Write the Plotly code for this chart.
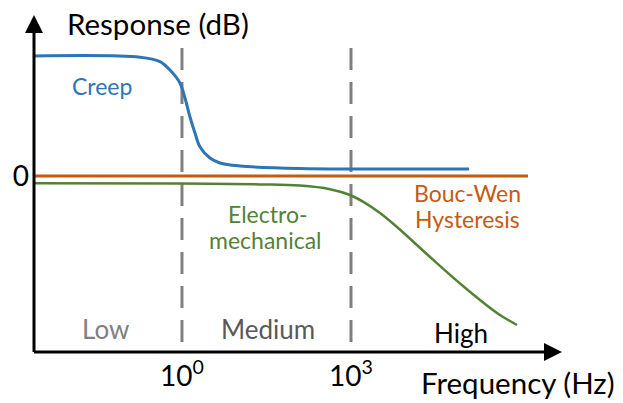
import numpy as np
import plotly.graph_objects as go

# Frequency (Hz) and response (dB) values for each mechanism
creep_f = [0.00236, 0.18, 0.407, 0.612, 0.92, 1.13, 1.387, 1.70, 2.09, 3.14, 4.73, 10.7, 124, 124500]
creep_db = [30.0, 29.7, 28.6, 26.5, 23.25, 19.5, 14.75, 10.75, 7.25, 4.5, 3.25, 2.5, 1.9, 1.75]

bouc_f = [0.00236, 1.39e6]
bouc_db = [0.0, 0.0]

electro_f = [0.00236, 1.0, 24.3, 124, 424, 960, 1630, 3270, 6560, 25300, 97300, 391000, 885000]
electro_db = [-1.83, -1.9, -2.1, -2.4, -3.3, -4.75, -6.4, -9.25, -12.75, -20.25, -27.5, -34.25, -37.25]

# Band boundaries (Hz) and the dB span of the dashed separators
band_edges = [1, 1000]
band_edge_labels = ["10<sup>0</sup>", "10<sup>3</sup>"]
separator_db = [32, -44]

# Band names with their (frequency, dB) placement
band_names = ["Low", "Medium", "High"]
band_f = [0.043, 33.6, 89800]
band_db = [-38.2, -38.2, -39.2]
band_colors = ["#7f7f7f", "#595959", "#000000"]

BLUE = "#2E75B6"
ORANGE = "#C55A11"
GREEN = "#548235"
FONT = "Lato"

X_RANGE = [-2.627, 6.746]
Y_RANGE = [-44, 40.25]

fig = go.Figure()

for edge in band_edges:
    fig.add_trace(go.Scatter(
        x=[edge, edge], y=separator_db, mode="lines",
        line=dict(color="#808080", width=3, dash="22px,12px"),
        hoverinfo="skip", showlegend=False, cliponaxis=False,
    ))

fig.add_trace(go.Scatter(x=bouc_f, y=bouc_db, mode="lines",
                         line=dict(color=ORANGE, width=3), name="Bouc-Wen Hysteresis"))
fig.add_trace(go.Scatter(x=electro_f, y=electro_db, mode="lines",
                         line=dict(color=GREEN, width=2.5, shape="spline"),
                         name="Electromechanical"))
fig.add_trace(go.Scatter(x=creep_f, y=creep_db, mode="lines",
                         line=dict(color=BLUE, width=3, shape="spline"), name="Creep"))

annotations = []


def label(text, f, db, color, size=23):
    annotations.append(dict(
        x=np.log10(f), y=db, xref="x", yref="y", text=text, showarrow=False,
        font=dict(family=FONT, size=size, color=color), xanchor="center", yanchor="middle",
    ))


label("Creep", 0.038, 22.6, BLUE)
label("Bouc-Wen", 119000, -4.2, ORANGE)
label("Hysteresis", 119000, -10.8, ORANGE)
label("Electro-", 32.3, -9.4, GREEN)
label("mechanical", 30.9, -16.1, GREEN)
for name, f, db, c in zip(band_names, band_f, band_db, band_colors):
    label(name, f, db, c, size=26)

annotations.append(dict(
    x=(65 - 34) / 528, y=(352 - 23) / 337, xref="paper", yref="paper", text="Response (dB)",
    showarrow=False, xanchor="left", yanchor="middle",
    font=dict(family=FONT, size=29.5, color="#000000"),
))
annotations.append(dict(
    x=(419 - 34) / 528, y=-0.09, xref="paper", yref="paper", text="Frequency (Hz)",
    showarrow=False, xanchor="left", yanchor="middle",
    font=dict(family=FONT, size=29.5, color="#000000"),
))

# Axis lines with arrowheads
shapes = [
    dict(type="line", xref="paper", yref="paper", x0=0, x1=0, y0=0, y1=(352 - 33) / 337,
         line=dict(color="#000000", width=3)),
    dict(type="line", xref="paper", yref="paper", x0=0, x1=(545 - 34) / 528, y0=0, y1=0,
         line=dict(color="#000000", width=3)),
    dict(type="path", xref="paper", yref="paper", xsizemode="pixel", ysizemode="pixel",
         xanchor=0, yanchor=1, path="M-9,-18 L9,-18 L0,0 Z",
         fillcolor="#000000", line=dict(width=0)),
    dict(type="path", xref="paper", yref="paper", xsizemode="pixel", ysizemode="pixel",
         xanchor=1, yanchor=0, path="M0,0 L-18,9 L-18,-9 Z",
         fillcolor="#000000", line=dict(width=0)),
]

fig.update_layout(
    width=623, height=403,
    margin=dict(l=34, r=61, t=15, b=51),
    paper_bgcolor="#ffffff", plot_bgcolor="#ffffff",
    showlegend=False,
    annotations=annotations,
    shapes=shapes,
    font=dict(family=FONT, color="#000000"),
)
fig.update_xaxes(
    type="log", range=X_RANGE, showgrid=False, zeroline=False, showline=False,
    tickvals=band_edges, ticktext=band_edge_labels, ticks="",
    tickfont=dict(family=FONT, size=28, color="#000000"), ticklabelstandoff=5,
)
fig.update_yaxes(
    range=Y_RANGE, showgrid=False, zeroline=False, showline=False,
    tickvals=[0], ticktext=["0"], ticks="",
    tickfont=dict(family=FONT, size=28, color="#000000"), ticklabelstandoff=4,
)

fig.write_html("out.html")
